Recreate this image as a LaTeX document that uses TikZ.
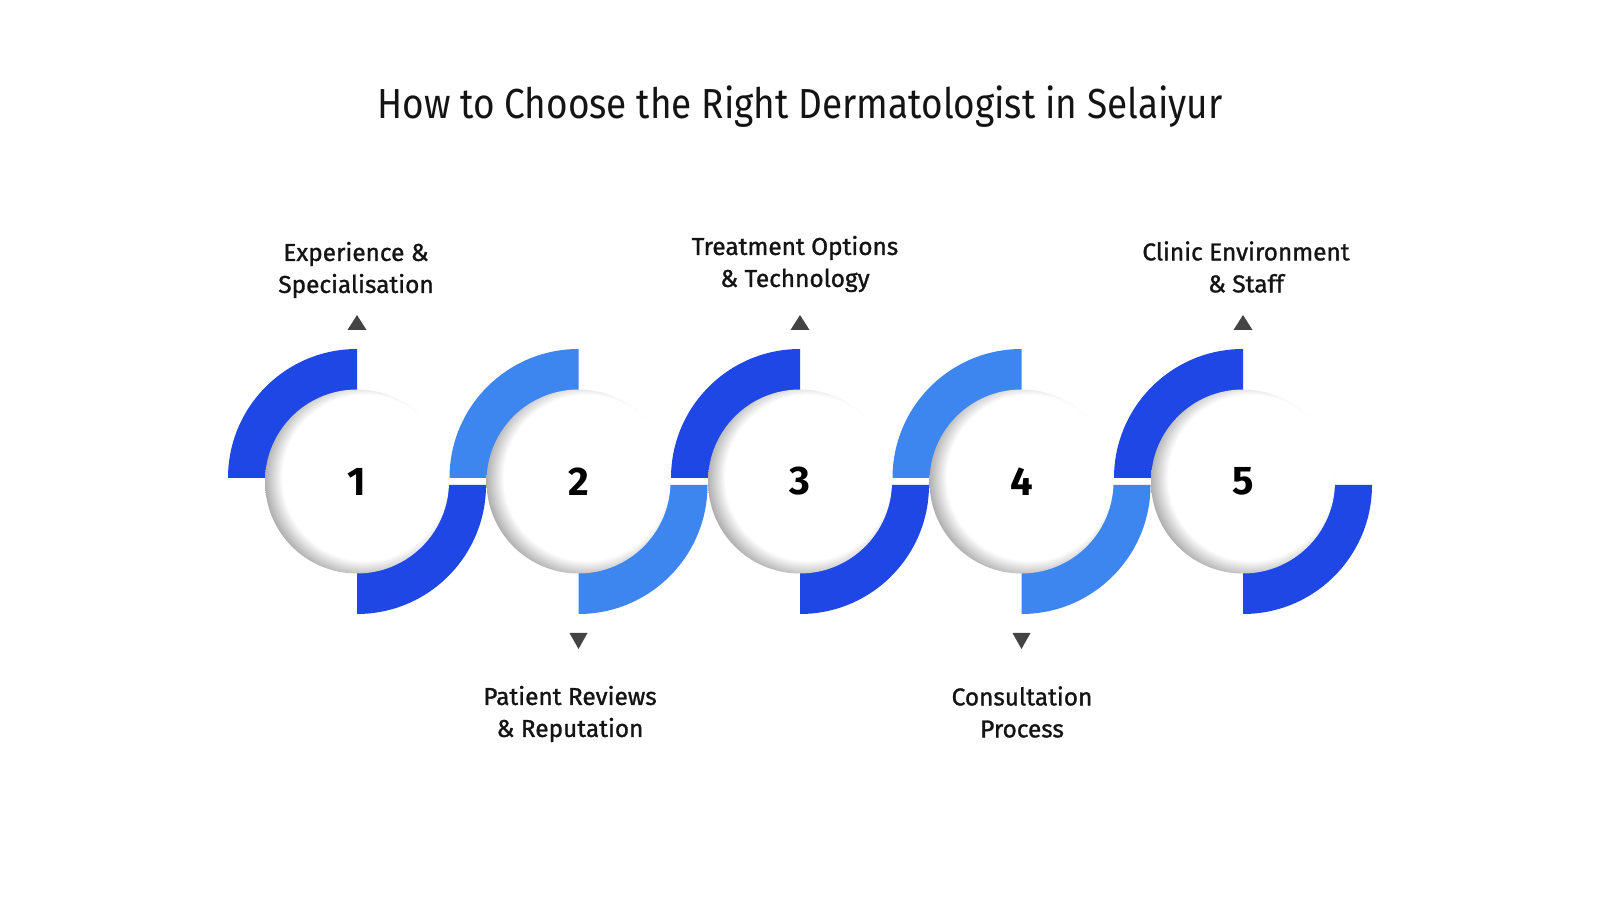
\documentclass[tikz,border=0pt]{standalone}
\usepackage{fontspec}
\setmainfont{Fira Sans}
\newfontfamily\titlefont[FakeStretch=0.88]{Fira Sans}
\newfontfamily\labelfont[FakeBold=1.2]{Fira Sans}
\usetikzlibrary{shadings}
\definecolor{darkblue}{RGB}{31,71,230}
\definecolor{lightblue}{RGB}{61,134,240}
\definecolor{tri}{RGB}{68,68,68}
\definecolor{txt}{RGB}{20,20,20}
\pgfdeclareradialshading{innershade}{\pgfpoint{0bp}{0bp}}{color(0bp)=(white); color(20.5bp)=(white); color(25bp)=(black!32); color(50bp)=(black!32)}
\tikzset{
  lbl/.style={align=center, inner sep=0pt, text=txt, font=\labelfont\fontsize{12.2}{16}\selectfont},
  num/.style={inner sep=0pt, text=black, font=\fontsize{20}{24}\selectfont\bfseries},
  ttl/.style={inner sep=0pt, text=txt, font=\titlefont\fontsize{21}{26}\selectfont},
  trifill/.style={fill=tri},
}
\begin{document}
\begin{tikzpicture}[x=0.5pt,y=0.5pt]
\useasboundingbox (0,0) rectangle (1600,900);
\fill[white] (0,0) rectangle (1600,900);
% title
\node[ttl, anchor=base] (title) at (800,781) {How to Choose the Right Dermatologist in Selaiyur};
% arcs
\foreach \cx/\col in {357/darkblue, 578.5/lightblue, 800/darkblue, 1021.5/lightblue, 1243/darkblue} {
  \fill[\col] (\cx,422) -- ++(-129,0) arc[start angle=180, end angle=90, radius=129] -- cycle;
  \fill[\col] (\cx,415) -- ++(129,0) arc[start angle=0, end angle=-90, radius=129] -- cycle;
}
% white discs with inner shadow
\foreach \cx in {357, 578.5, 800, 1021.5, 1243} {
  \begin{scope}
    \clip (\cx,418.5) circle (92);
    \shade[shading=innershade] (\cx+8,422.5) circle (101);
  \end{scope}
}
% numbers
\node[num] (n1) at (357,418.5) {1};
\node[num] (n2) at (578.5,418.5) {2};
\node[num] (n3) at (800,418.5) {3};
\node[num] (n4) at (1021.5,418.5) {4};
\node[num] (n5) at (1243,418.5) {5};
% triangles
\foreach \cx in {357, 800, 1243} {
  \fill[trifill] (\cx-9.5,570) -- (\cx+9.5,570) -- (\cx,585) -- cycle;
}
\foreach \cx in {578.5, 1021.5} {
  \fill[trifill] (\cx-9,267) -- (\cx+9,267) -- (\cx,251) -- cycle;
}
% labels
\node[lbl] (l1) at (356,630) {Experience \&\\Specialisation};
\node[lbl] (l3) at (795,636) {Treatment Options\\\& Technology};
\node[lbl] (l5) at (1246,633) {Clinic Environment\\\& Staff};
\node[lbl] (l2) at (570,186) {Patient Reviews\\\& Reputation};
\node[lbl] (l4) at (1022,188) {Consultation\\Process};
\end{tikzpicture}
\end{document}
